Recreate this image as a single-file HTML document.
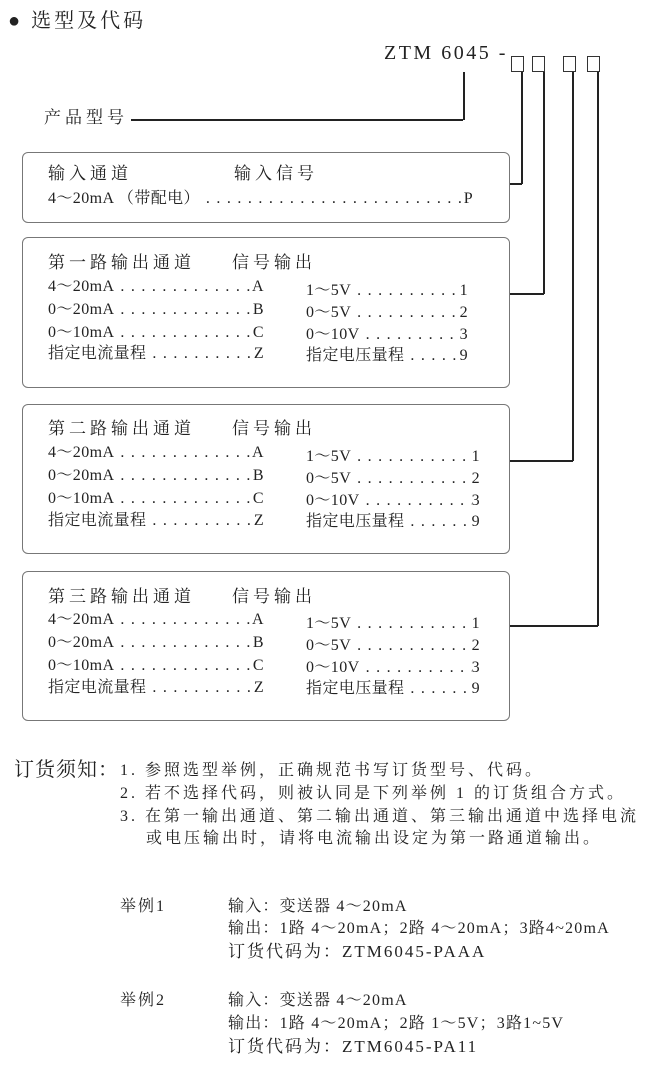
<!DOCTYPE html>
<html><head><meta charset="utf-8"><style>
body{margin:0;width:650px;height:1084px;background:#fff;position:relative;overflow:hidden;font-family:"Liberation Serif","Noto Serif CJK SC",serif;color:#222;}
.t{position:absolute;white-space:nowrap;font-size:15px;line-height:18px;}
.h{font-size:17px;letter-spacing:4px;}
.r{position:absolute;display:flex;white-space:nowrap;font-size:16px;line-height:18px;letter-spacing:0.4px;}
.r .d{flex:1;overflow:hidden;letter-spacing:6.5px;padding-left:6px;}
.box{position:absolute;left:22px;width:486px;border:1.5px solid #777;border-radius:6px;}
.ln{position:absolute;background:#222;}
.sq{position:absolute;top:56px;width:11px;height:14px;border:1.3px solid #333;}
.n{font-size:16px;letter-spacing:3px;line-height:20px;}
.e{font-size:16px;letter-spacing:1.2px;line-height:20px;}
</style></head><body>
<div class="t" style="left:8px;top:8px;font-size:20px;line-height:26px;letter-spacing:3px;">● 选型及代码</div>
<div class="t" style="left:384px;top:40px;font-size:20px;line-height:26px;letter-spacing:2.5px;">ZTM 6045 -</div>
<div class="sq" style="left:511px"></div><div class="sq" style="left:532px"></div>
<div class="sq" style="left:563px"></div><div class="sq" style="left:587px"></div>
<div class="t h" style="left:44px;top:107px;line-height:22px;">产品型号</div>
<div class="ln" style="left:131px;top:119px;width:332px;height:1.5px"></div>
<div class="ln" style="left:463px;top:72px;width:1.5px;height:48px"></div>
<div class="ln" style="left:521px;top:72px;width:1.5px;height:112px"></div>
<div class="ln" style="left:509px;top:183px;width:13px;height:1.5px"></div>
<div class="ln" style="left:543px;top:72px;width:1.5px;height:222px"></div>
<div class="ln" style="left:509px;top:293px;width:35px;height:1.5px"></div>
<div class="ln" style="left:572px;top:72px;width:1.5px;height:389px"></div>
<div class="ln" style="left:509px;top:460px;width:64px;height:1.5px"></div>
<div class="ln" style="left:597px;top:72px;width:1.5px;height:554px"></div>
<div class="ln" style="left:509px;top:625px;width:89px;height:1.5px"></div>

<div class="box" style="top:152px;height:69px"></div>
<div class="t h" style="left:48px;top:165px;">输入通道</div>
<div class="t h" style="left:234px;top:165px;">输入信号</div>
<div class="r" style="left:48px;top:190px;width:425px"><span>4～20mA （带配电）</span><span class="d">..................................</span><span>P</span></div>

<div class="box" style="top:237px;height:149px"></div>
<div class="t h" style="left:48px;top:254px;">第一路输出通道<span style="margin-left:37px">信号输出</span></div>
<div class="r" style="left:48px;top:278px;width:216px"><span>4～20mA</span><span class="d">..................</span><span>A</span></div>
<div class="r" style="left:48px;top:301px;width:216px"><span>0～20mA</span><span class="d">..................</span><span>B</span></div>
<div class="r" style="left:48px;top:324px;width:216px"><span>0～10mA</span><span class="d">..................</span><span>C</span></div>
<div class="r" style="left:48px;top:345px;width:216px"><span>指定电流量程</span><span class="d">..................</span><span>Z</span></div>
<div class="r" style="left:306px;top:282px;width:162px"><span>1～5V</span><span class="d">..................</span><span>1</span></div>
<div class="r" style="left:306px;top:304px;width:162px"><span>0～5V</span><span class="d">..................</span><span>2</span></div>
<div class="r" style="left:306px;top:326px;width:162px"><span>0～10V</span><span class="d">..................</span><span>3</span></div>
<div class="r" style="left:306px;top:347px;width:162px"><span>指定电压量程</span><span class="d">..................</span><span>9</span></div>

<div class="box" style="top:404px;height:148px"></div>
<div class="t h" style="left:48px;top:420px;">第二路输出通道<span style="margin-left:37px">信号输出</span></div>
<div class="r" style="left:48px;top:444px;width:216px"><span>4～20mA</span><span class="d">..................</span><span>A</span></div>
<div class="r" style="left:48px;top:467px;width:216px"><span>0～20mA</span><span class="d">..................</span><span>B</span></div>
<div class="r" style="left:48px;top:490px;width:216px"><span>0～10mA</span><span class="d">..................</span><span>C</span></div>
<div class="r" style="left:48px;top:512px;width:216px"><span>指定电流量程</span><span class="d">..................</span><span>Z</span></div>
<div class="r" style="left:306px;top:448px;width:174px"><span>1～5V</span><span class="d">..................</span><span>1</span></div>
<div class="r" style="left:306px;top:470px;width:174px"><span>0～5V</span><span class="d">..................</span><span>2</span></div>
<div class="r" style="left:306px;top:492px;width:174px"><span>0～10V</span><span class="d">..................</span><span>3</span></div>
<div class="r" style="left:306px;top:513px;width:174px"><span>指定电压量程</span><span class="d">..................</span><span>9</span></div>

<div class="box" style="top:571px;height:148px"></div>
<div class="t h" style="left:48px;top:588px;">第三路输出通道<span style="margin-left:37px">信号输出</span></div>
<div class="r" style="left:48px;top:611px;width:216px"><span>4～20mA</span><span class="d">..................</span><span>A</span></div>
<div class="r" style="left:48px;top:634px;width:216px"><span>0～20mA</span><span class="d">..................</span><span>B</span></div>
<div class="r" style="left:48px;top:657px;width:216px"><span>0～10mA</span><span class="d">..................</span><span>C</span></div>
<div class="r" style="left:48px;top:679px;width:216px"><span>指定电流量程</span><span class="d">..................</span><span>Z</span></div>
<div class="r" style="left:306px;top:615px;width:174px"><span>1～5V</span><span class="d">..................</span><span>1</span></div>
<div class="r" style="left:306px;top:637px;width:174px"><span>0～5V</span><span class="d">..................</span><span>2</span></div>
<div class="r" style="left:306px;top:659px;width:174px"><span>0～10V</span><span class="d">..................</span><span>3</span></div>
<div class="r" style="left:306px;top:680px;width:174px"><span>指定电压量程</span><span class="d">..................</span><span>9</span></div>

<div class="t" style="left:14px;top:757px;font-size:20px;line-height:26px;letter-spacing:1px;">订货须知：</div>
<div class="t n" style="left:120px;top:761px;">1. 参照选型举例，正确规范书写订货型号、代码。</div>
<div class="t n" style="left:120px;top:784px;">2. 若不选择代码，则被认同是下列举例 1 的订货组合方式。</div>
<div class="t n" style="left:120px;top:807px;">3. 在第一输出通道、第二输出通道、第三输出通道中选择电流</div>
<div class="t n" style="left:146px;top:829px;">或电压输出时，请将电流输出设定为第一路通道输出。</div>

<div class="t e" style="left:120px;top:897px;letter-spacing:2px;">举例1</div>
<div class="t e" style="left:228px;top:897px;">输入：变送器 4～20mA</div>
<div class="t e" style="left:228px;top:919px;">输出：1路 4～20mA；2路 4～20mA；3路4~20mA</div>
<div class="t e" style="left:228px;top:942px;font-size:17px;letter-spacing:2px;">订货代码为：ZTM6045-PAAA</div>
<div class="t e" style="left:120px;top:991px;letter-spacing:2px;">举例2</div>
<div class="t e" style="left:228px;top:991px;">输入：变送器 4～20mA</div>
<div class="t e" style="left:228px;top:1014px;">输出：1路 4～20mA；2路 1～5V；3路1~5V</div>
<div class="t e" style="left:228px;top:1037px;font-size:17px;letter-spacing:2px;">订货代码为：ZTM6045-PA11</div>
</body></html>
